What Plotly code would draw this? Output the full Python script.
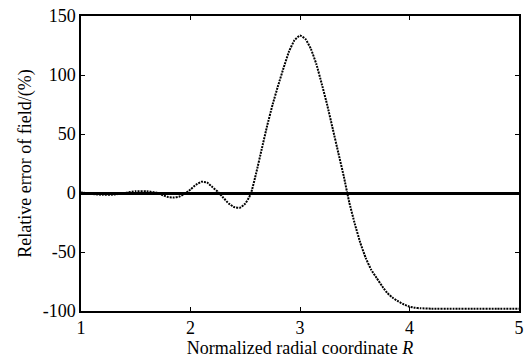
import plotly.graph_objects as go

R = [1.0, 1.05, 1.1, 1.2, 1.3, 1.4, 1.5, 1.6, 1.7, 1.75, 1.8, 1.85, 1.9, 1.95,
     2.0, 2.05, 2.1, 2.15, 2.2, 2.25, 2.3, 2.35, 2.4, 2.45, 2.5, 2.55, 2.6,
     2.65, 2.7, 2.75, 2.8, 2.85, 2.9, 2.95, 3.0, 3.05, 3.1, 3.15, 3.2, 3.25,
     3.3, 3.35, 3.4, 3.45, 3.5, 3.55, 3.6, 3.65, 3.7, 3.75, 3.8, 3.85, 3.9,
     3.95, 4.0, 4.05, 4.1, 4.2, 4.4, 4.6, 4.8, 5.0]
error = [0.5, 0.0, -0.8, -1.5, -1.3, 0.0, 1.5, 1.5, 0.0, -2.0, -3.5, -3.8, -3.0, -0.5,
         3.0, 7.0, 9.5, 9.0, 5.0, 1.0, -4.0, -9.0, -12.0, -12.5, -9.0, -1.0, 17.0,
         37.0, 57.0, 75.0, 91.0, 106.0, 120.0, 129.5, 133.5, 130.5, 122.0, 109.0, 92.0, 74.0,
         54.0, 34.0, 14.0, -8.0, -26.0, -42.0, -55.0, -65.0, -72.0, -79.0, -85.0, -89.0, -92.0,
         -94.5, -96.3, -97.3, -97.7, -98.0, -98.0, -98.0, -98.0, -98.0]

x_ticks = [1, 2, 3, 4, 5]
y_ticks = [-100, -50, 0, 50, 100, 150]

FONT = "'Times New Roman', 'Liberation Serif', Tinos, 'DejaVu Serif', serif"

fig = go.Figure()
fig.add_trace(go.Scatter(
    x=R, y=error, mode="lines",
    line=dict(color="black", width=2, dash="2px,1px", shape="spline", smoothing=0.4),
    showlegend=False, hoverinfo="skip",
))

axis_common = dict(
    showgrid=False, showline=True, linecolor="black", linewidth=1.5,
    mirror="ticks", ticks="inside", ticklen=4, tickwidth=1, tickcolor="black",
    tickfont=dict(family=FONT, size=18, color="black"),
)

fig.update_xaxes(
    range=[1, 5], tickvals=x_ticks, ticktext=[str(t) for t in x_ticks],
    zeroline=False,
    title=dict(text="Normalized radial coordinate <i>R</i>",
               font=dict(family=FONT, size=18, color="black"), standoff=4),
    **axis_common,
)
fig.update_yaxes(
    range=[-100, 150], tickvals=y_ticks, ticktext=[str(t) for t in y_ticks],
    zeroline=True, zerolinecolor="black", zerolinewidth=2.5,
    title=dict(text="Relative error of field/(%)",
               font=dict(family=FONT, size=18, color="black"), standoff=6),
    **axis_common,
)

fig.update_layout(
    width=529, height=360,
    margin=dict(l=81, r=5, t=16, b=49),
    paper_bgcolor="white", plot_bgcolor="white",
    font=dict(family=FONT, color="black"),
)

fig.write_html("out.html")
